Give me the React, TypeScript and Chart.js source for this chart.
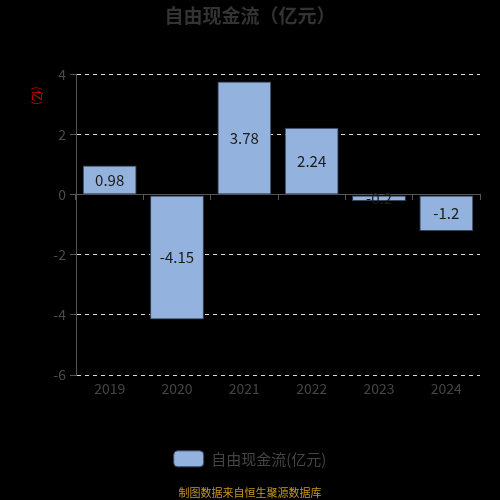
import React, { useEffect, useRef } from "react";
import { Chart, registerables } from "chart.js";

Chart.register(...registerables);

const years = ["2019", "2020", "2021", "2022", "2023", "2024"];
const freeCashFlow = [0.98, -4.15, 3.78, 2.24, -0.2, -1.2];
const valueText = ["0.98", "-4.15", "3.78", "2.24", "-0.2", "-1.2"];
const yTicks = [-6, -4, -2, 0, 2, 4];

const FONT = '"Noto Sans CJK SC", "Noto Sans", sans-serif';

// value text in the middle of every bar
const barValues = {
  id: "barValues",
  afterDatasetsDraw(chart: any) {
    const { ctx } = chart;
    const meta = chart.getDatasetMeta(0);
    ctx.save();
    ctx.font = `15px ${FONT}`;
    ctx.fillStyle = "#1b1b1b";
    ctx.textAlign = "center";
    ctx.textBaseline = "middle";
    meta.data.forEach((bar: any, i: number) => {
      const { x, y, base } = bar.getProps(["x", "y", "base"], true);
      ctx.fillText(valueText[i], x, (y + base) / 2);
    });
    ctx.restore();
  },
};

// small red unit label left of the y axis
const unitLabel = {
  id: "unitLabel",
  afterDraw(chart: any) {
    const { ctx, chartArea } = chart;
    ctx.save();
    ctx.translate(chartArea.left - 39, chartArea.top + 21);
    ctx.rotate(Math.PI / 2);
    ctx.font = `11px ${FONT}`;
    ctx.fillStyle = "#e00000";
    ctx.textAlign = "center";
    ctx.textBaseline = "middle";
    ctx.fillText("(亿)", 0, 0);
    ctx.restore();
  },
};

const App = () => {
  const chartRef = useRef<HTMLCanvasElement>(null);
  const chartInstanceRef = useRef<any>(null);

  useEffect(() => {
    document.body.style.margin = "0";
    document.body.style.background = "#000";
    const ctx = chartRef.current!.getContext("2d")!;

    if (chartInstanceRef.current) {
      chartInstanceRef.current.destroy();
    }

    chartInstanceRef.current = new Chart(ctx, {
      type: "bar",
      data: {
        labels: years,
        datasets: [
          {
            label: "自由现金流(亿元)",
            data: freeCashFlow,
            backgroundColor: "#93b3de",
            borderColor: "#34465a",
            borderWidth: 1,
            borderSkipped: false,
            barPercentage: 1,
            categoryPercentage: 0.8,
          },
        ],
      },
      options: {
        animation: false,
        responsive: true,
        maintainAspectRatio: false,
        layout: { padding: { left: 0, right: 0, bottom: 1 } },
        scales: {
          x: {
            grid: { display: false, drawTicks: false },
            border: { display: false },
            ticks: {
              color: "#444",
              font: { family: FONT, size: 14 },
              padding: 5,
            },
          },
          // axis line through zero with small ticks between the years
          xZero: {
            type: "category",
            position: { y: 0 },
            grid: {
              offset: true,
              drawOnChartArea: false,
              drawTicks: true,
              tickLength: 5,
              tickColor: "#555",
            },
            border: { display: true, color: "#555" },
            ticks: { display: false },
          },
          y: {
            min: -6,
            max: 4,
            afterFit: (scale: any) => {
              scale.width = 76;
            },
            afterBuildTicks: (scale: any) => {
              scale.ticks = yTicks.map((v) => ({ value: v }));
            },
            grid: {
              color: (c: any) =>
                c.tick && c.tick.value === 0 ? "#555" : "#dcdcdc",
              lineWidth: 1,
              tickColor: "#555",
              tickLength: 6,
            },
            border: {
              display: true,
              color: "#555",
              dash: (c: any) =>
                c.tick && c.tick.value === 0 ? [] : [4, 4],
            },
            ticks: {
              color: "#4a4a4a",
              font: { family: FONT, size: 14 },
              padding: 4,
            },
          },
          // empty right-hand axis, only keeps a margin so the titles stay centred
          yRight: {
            position: "right",
            grid: { display: false, drawTicks: false },
            border: { display: false },
            ticks: { display: false },
            afterFit: (scale: any) => {
              scale.width = 20;
            },
          },
        },
        plugins: {
          title: {
            display: true,
            text: "自由现金流（亿元）",
            color: "#333",
            font: { family: FONT, size: 19, weight: "bold" },
            padding: { top: 4, bottom: 48 },
          },
          subtitle: {
            display: true,
            position: "bottom",
            text: "制图数据来自恒生聚源数据库",
            color: "#c8961e",
            font: { family: FONT, size: 11 },
            padding: { top: 9, bottom: 0 },
          },
          legend: {
            position: "bottom",
            labels: {
              color: "#444",
              font: { family: FONT, size: 15 },
              boxWidth: 30,
              boxHeight: 16,
              useBorderRadius: true,
              borderRadius: 4,
              padding: 49,
            },
          },
          tooltip: { enabled: false },
        },
      },
      plugins: [barValues, unitLabel],
    } as any);

    return () => {
      if (chartInstanceRef.current) {
        chartInstanceRef.current.destroy();
        chartInstanceRef.current = null;
      }
    };
  }, []);

  return (
    <div style={{ width: 500, height: 500, background: "#000" }}>
      <canvas ref={chartRef} />
    </div>
  );
};

export default App;
